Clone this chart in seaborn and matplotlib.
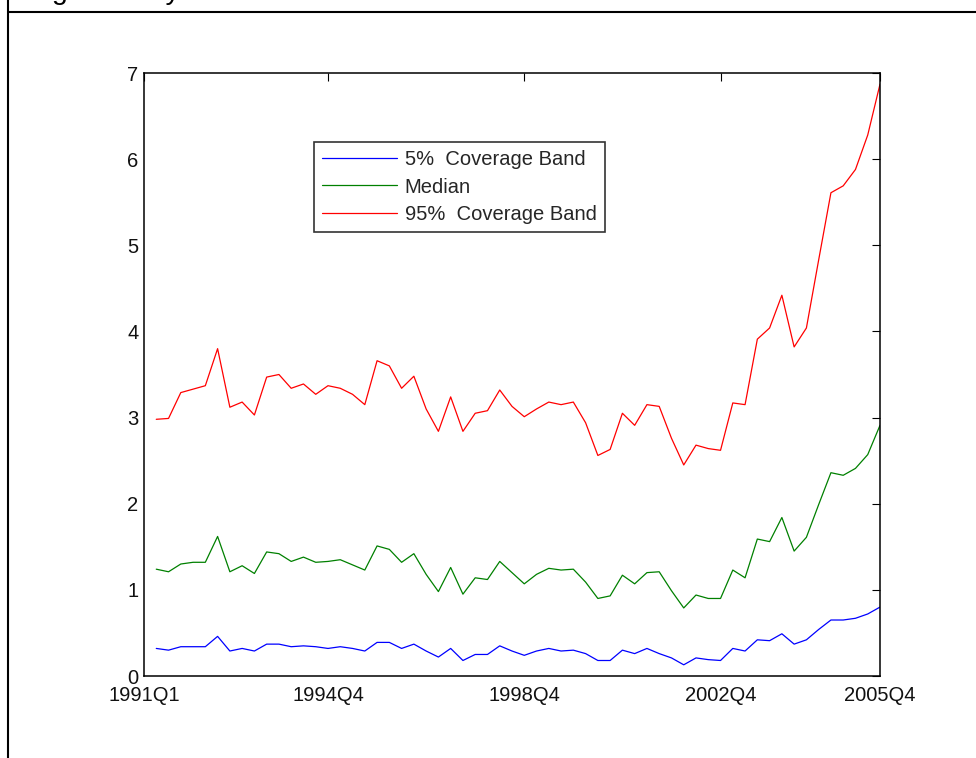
import numpy as np
import pandas as pd
import matplotlib
matplotlib.use("Agg")
import matplotlib.pyplot as plt
from matplotlib.lines import Line2D
import seaborn as sns

# Quarterly observations, 1991Q1 .. 2005Q4 (60 quarters)
quarter_index = list(range(1, 61))

band_05 = [0.32, 0.30, 0.34, 0.34, 0.34, 0.46, 0.29, 0.32, 0.29, 0.37,
           0.37, 0.34, 0.35, 0.34, 0.32, 0.34, 0.32, 0.29, 0.39, 0.39,
           0.32, 0.37, 0.29, 0.22, 0.32, 0.18, 0.25, 0.25, 0.35, 0.29,
           0.24, 0.29, 0.32, 0.29, 0.30, 0.26, 0.18, 0.18, 0.30, 0.26,
           0.32, 0.26, 0.21, 0.13, 0.21, 0.19, 0.18, 0.32, 0.29, 0.42,
           0.41, 0.49, 0.37, 0.42, 0.54, 0.65, 0.65, 0.67, 0.72, 0.80]

median = [1.24, 1.21, 1.30, 1.32, 1.32, 1.62, 1.21, 1.28, 1.19, 1.44,
          1.42, 1.33, 1.38, 1.32, 1.33, 1.35, 1.29, 1.23, 1.51, 1.47,
          1.32, 1.42, 1.18, 0.98, 1.26, 0.95, 1.14, 1.12, 1.33, 1.20,
          1.07, 1.18, 1.25, 1.23, 1.24, 1.09, 0.90, 0.93, 1.17, 1.07,
          1.20, 1.21, 0.99, 0.79, 0.94, 0.90, 0.90, 1.23, 1.14, 1.59,
          1.56, 1.84, 1.45, 1.61, 1.99, 2.36, 2.33, 2.41, 2.57, 2.91]

band_95 = [2.98, 2.99, 3.29, 3.33, 3.37, 3.80, 3.12, 3.18, 3.03, 3.47,
           3.50, 3.34, 3.39, 3.27, 3.37, 3.34, 3.27, 3.15, 3.66, 3.60,
           3.34, 3.48, 3.10, 2.84, 3.24, 2.84, 3.05, 3.08, 3.32, 3.13,
           3.01, 3.10, 3.18, 3.15, 3.18, 2.94, 2.56, 2.63, 3.05, 2.91,
           3.15, 3.13, 2.76, 2.45, 2.68, 2.64, 2.62, 3.17, 3.15, 3.91,
           4.04, 4.42, 3.82, 4.04, 4.83, 5.61, 5.69, 5.88, 6.28, 6.87]

series_names = ["5% Coverage Band", "Median", "95% Coverage Band"]
legend_labels = ["5%  Coverage Band", "Median", "95%  Coverage Band"]
series_colors = ["#0000ff", "#008000", "#ff0000"]

tick_positions = [0, 15, 31, 47, 60]
tick_labels = ["1991Q1", "1994Q4", "1998Q4", "2002Q4", "2005Q4"]

df = pd.DataFrame({
    "t": quarter_index * 3,
    "value": band_05 + median + band_95,
    "series": [series_names[0]] * 60 + [series_names[1]] * 60 + [series_names[2]] * 60,
})

sns.set_style("white")
plt.rcParams["font.family"] = ["Liberation Sans", "DejaVu Sans"]

fig = plt.figure(figsize=(9.76, 7.58), dpi=100)
ax = fig.add_axes([144 / 976, 1 - 676 / 758, (880 - 144) / 976, (676 - 73) / 758])

sns.lineplot(data=df, x="t", y="value", hue="series", hue_order=series_names,
             palette=dict(zip(series_names, series_colors)), linewidth=0.9,
             ax=ax, legend=False)

ax.set_xlim(0, 60)
ax.set_ylim(0, 7)
ax.set_xticks(tick_positions)
ax.set_xticklabels(tick_labels)
ax.set_yticks(range(0, 8))
ax.set_xlabel("")
ax.set_ylabel("")
ax.tick_params(direction="in", length=6, width=0.8, color="black",
               labelsize=14.5, labelcolor="#111111",
               top=True, right=True)
ax.tick_params(axis="x", pad=7.5)
ax.tick_params(axis="y", pad=4)
for sp in ax.spines.values():
    sp.set_color("black")
    sp.set_linewidth(1.1)

handles = [Line2D([0], [0], color=c, linewidth=0.9) for c in series_colors]
leg = fig.legend(handles, legend_labels,
                 loc="upper left", bbox_to_anchor=(314 / 976, 1 - 142 / 758),
                 borderaxespad=0, fontsize=14.5, handlelength=3.7,
                 handletextpad=0.4, labelspacing=0.42, borderpad=0.4,
                 fancybox=False, frameon=True)
leg.get_frame().set_edgecolor("black")
leg.get_frame().set_linewidth(1.2)

# page frame around the figure panel
fig.add_artist(Line2D([8 / 976, 1.0], [1 - 12 / 758, 1 - 12 / 758],
                      transform=fig.transFigure, color="black", linewidth=1.5))
fig.add_artist(Line2D([8 / 976, 8 / 976], [0.0, 1.0],
                      transform=fig.transFigure, color="black", linewidth=1.5))
fig.text(20 / 976, 1 + 1 / 758, "Log Volatility", fontsize=20.5,
         va="baseline", ha="left", color="black")

fig.savefig("out.png", dpi=100, facecolor="white")
